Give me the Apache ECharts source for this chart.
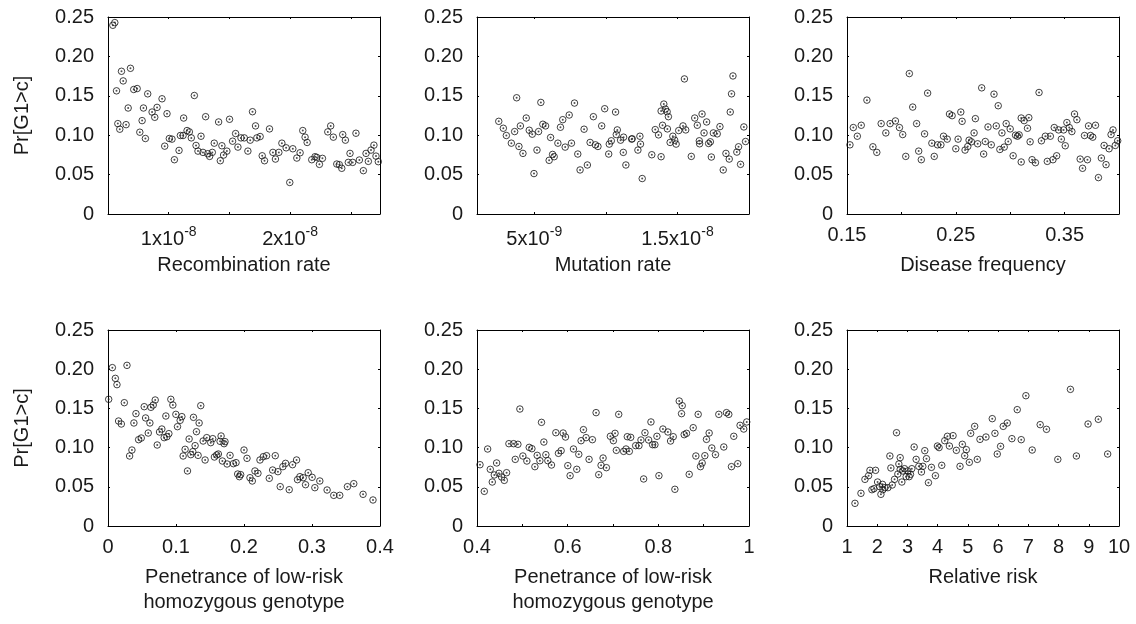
<!DOCTYPE html>
<html>
<head>
<meta charset="utf-8">
<script src="https://cdn.jsdelivr.net/npm/echarts@6/dist/echarts.min.js"></script>
<style>
  html, body { margin: 0; padding: 0; background: #fff; }
  #chart { width: 1136px; height: 624px; }
</style>
</head>
<body>
<div id="chart"></div>
<script>
// shared y axis: Pr[G1>c]
const prTicks = [0, 0.05, 0.10, 0.15, 0.20, 0.25];

// recombination rate (in units of 1e-8)
const recombRateE8 = [
  0.540, 0.556, 0.570, 0.581, 0.597, 0.611, 0.625, 0.649, 0.666, 0.685,
  0.712, 0.740, 0.762, 0.781, 0.792, 0.808, 0.827, 0.863, 0.885, 0.904,
  0.945, 0.967, 0.986, 1.005, 1.027, 1.047, 1.085, 1.096, 1.118, 1.123,
  1.151, 1.170, 1.186, 1.211, 1.225, 1.241, 1.266, 1.282, 1.304, 1.321,
  1.337, 1.359, 1.375, 1.411, 1.425, 1.438, 1.452, 1.479, 1.501, 1.526,
  1.551, 1.570, 1.595, 1.622, 1.652, 1.671, 1.690, 1.715, 1.726, 1.753,
  1.770, 1.789, 1.830, 1.858, 1.879, 1.907, 1.932, 1.967, 1.997, 2.022,
  2.055, 2.082, 2.104, 2.123, 2.140, 2.178, 2.205, 2.219, 2.241, 2.266,
  2.310, 2.334, 2.356, 2.384, 2.405, 2.425, 2.433, 2.455, 2.479, 2.493,
  2.515, 2.542, 2.570, 2.603, 2.625, 2.644, 2.666, 2.690, 2.707, 2.726
];
const recombPr = [
  0.2395, 0.2429, 0.1563, 0.1147, 0.1076, 0.1811, 0.1689, 0.1134, 0.1345, 0.1849,
  0.1580, 0.1592, 0.1038, 0.1185, 0.1345, 0.0958, 0.1525, 0.1294, 0.1227, 0.1353,
  0.1462, 0.0861, 0.1273, 0.0958, 0.0950, 0.0689, 0.0807, 0.0996, 0.0996, 0.1218,
  0.1059, 0.1042, 0.0966, 0.1504, 0.0870, 0.0798, 0.0987, 0.0782, 0.1235, 0.0765,
  0.0731, 0.0782, 0.0899, 0.1168, 0.0676, 0.0866, 0.0748, 0.0798, 0.1202, 0.0924,
  0.1021, 0.0849, 0.0966, 0.0966, 0.0798, 0.0937, 0.1298, 0.1118, 0.0966, 0.0983,
  0.0739, 0.0676, 0.1080, 0.0782, 0.0697, 0.0782, 0.0899, 0.0840, 0.0400, 0.0828,
  0.0710, 0.0777, 0.1059, 0.0975, 0.0908, 0.0689, 0.0727, 0.0718, 0.0630, 0.0706,
  0.1042, 0.1118, 0.0975, 0.0634, 0.0626, 0.0580, 0.1008, 0.0937, 0.0655, 0.0769,
  0.0655, 0.1025, 0.0685, 0.0550, 0.0769, 0.0668, 0.0811, 0.0874, 0.0735, 0.0664
];
const recombTicks = [0.5e-8, 1e-8, 1.5e-8, 2e-8, 2.5e-8];
const recombLabels = [1e-8, 2e-8];

// mutation rate (in units of 1e-8)
const mutationRateE8 = [
  0.252, 0.284, 0.305, 0.340, 0.363, 0.377, 0.393, 0.403, 0.421, 0.444,
  0.465, 0.486, 0.498, 0.519, 0.530, 0.546, 0.560, 0.579, 0.604, 0.614,
  0.628, 0.639, 0.665, 0.683, 0.699, 0.716, 0.744, 0.760, 0.781, 0.804,
  0.820, 0.848, 0.871, 0.890, 0.913, 0.927, 0.945, 0.971, 0.992, 1.020,
  1.024, 1.038, 1.068, 1.073, 1.080, 1.103, 1.122, 1.124, 1.140, 1.180,
  1.184, 1.224, 1.238, 1.242, 1.254, 1.321, 1.345, 1.368, 1.386, 1.386,
  1.396, 1.405, 1.416, 1.428, 1.430, 1.437, 1.449, 1.468, 1.481, 1.491,
  1.509, 1.539, 1.549, 1.558, 1.597, 1.621, 1.639, 1.653, 1.655, 1.672,
  1.686, 1.704, 1.718, 1.730, 1.737, 1.751, 1.778, 1.797, 1.820, 1.839,
  1.862, 1.869, 1.878, 1.888, 1.915, 1.927, 1.941, 1.964, 1.976
];
const mutationPr = [
  0.1176, 0.1088, 0.0996, 0.0899, 0.1046, 0.1475, 0.0857, 0.1118, 0.0769, 0.1218,
  0.1063, 0.1013, 0.0513, 0.0811, 0.1046, 0.1416, 0.1139, 0.1118, 0.0681, 0.0971,
  0.0756, 0.0727, 0.0899, 0.1101, 0.1197, 0.0849, 0.1256, 0.0899, 0.1408, 0.0761,
  0.0559, 0.1076, 0.0622, 0.0908, 0.1235, 0.0878, 0.0857, 0.1118, 0.1336, 0.0761,
  0.0887, 0.0929, 0.1294, 0.1008, 0.1067, 0.0937, 0.0782, 0.0975, 0.0622, 0.0950,
  0.0955, 0.0811, 0.0987, 0.0887, 0.0450, 0.0752, 0.1071, 0.1004, 0.1307, 0.0727,
  0.1126, 0.1395, 0.1332, 0.1298, 0.1080, 0.1235, 0.0908, 0.0987, 0.0937, 0.0887,
  0.1059, 0.1118, 0.1714, 0.1067, 0.0731, 0.1218, 0.1126, 0.0929, 0.0891, 0.1269,
  0.1029, 0.1168, 0.0895, 0.0916, 0.0723, 0.1029, 0.1017, 0.1109, 0.0559, 0.0769,
  0.0697, 0.1294, 0.1525, 0.1752, 0.0786, 0.0853, 0.0630, 0.1105, 0.0920
];
const mutationTicks = [0.5e-8, 1e-8, 1.5e-8];
const mutationLabels = [0.5e-8, 1.5e-8];

// disease frequency
const diseaseFreq = [
  0.1527, 0.1558, 0.1595, 0.1631, 0.1683, 0.1738, 0.1774, 0.1814, 0.1857, 0.1896,
  0.1945, 0.1982, 0.2012, 0.2040, 0.2073, 0.2104, 0.2140, 0.2159, 0.2183, 0.2213,
  0.2241, 0.2280, 0.2302, 0.2332, 0.2363, 0.2387, 0.2421, 0.2442, 0.2466, 0.2500,
  0.2521, 0.2546, 0.2558, 0.2585, 0.2610, 0.2622, 0.2643, 0.2668, 0.2680, 0.2701,
  0.2738, 0.2756, 0.2771, 0.2796, 0.2826, 0.2851, 0.2872, 0.2890, 0.2905, 0.2924,
  0.2945, 0.2963, 0.2982, 0.3000, 0.3027, 0.3049, 0.3067, 0.3082, 0.3101, 0.3101,
  0.3128, 0.3159, 0.3171, 0.3183, 0.3201, 0.3232, 0.3265, 0.3287, 0.3323, 0.3341,
  0.3369, 0.3393, 0.3405, 0.3427, 0.3445, 0.3470, 0.3491, 0.3506, 0.3521, 0.3543,
  0.3567, 0.3591, 0.3613, 0.3643, 0.3665, 0.3683, 0.3710, 0.3720, 0.3738, 0.3759,
  0.3784, 0.3811, 0.3838, 0.3863, 0.3881, 0.3909, 0.3927, 0.3945, 0.3966, 0.3988
];
const diseasePr = [
  0.0878, 0.1097, 0.0987, 0.1126, 0.1445, 0.0853, 0.0782, 0.1147, 0.1029, 0.1147,
  0.1181, 0.1097, 0.1008, 0.0731, 0.1782, 0.1357, 0.1147, 0.0798, 0.0689, 0.1017,
  0.1534, 0.0899, 0.0731, 0.0878, 0.0878, 0.0987, 0.0950, 0.1269, 0.1248, 0.0828,
  0.0950, 0.1294, 0.1176, 0.0811, 0.0857, 0.0937, 0.0916, 0.1029, 0.1210, 0.0891,
  0.1601, 0.0761, 0.0920, 0.1105, 0.0878, 0.1521, 0.1118, 0.1374, 0.0819, 0.1029,
  0.0849, 0.1147, 0.0920, 0.1080, 0.0739, 0.1000, 0.0987, 0.1004, 0.0660, 0.1218,
  0.1185, 0.1088, 0.1223, 0.0916, 0.0689, 0.0651, 0.1542, 0.0929, 0.0987, 0.0668,
  0.0987, 0.0689, 0.1097, 0.0739, 0.1067, 0.0950, 0.1067, 0.0866, 0.1160, 0.1097,
  0.1046, 0.1269, 0.1197, 0.0697, 0.0580, 0.0996, 0.0689, 0.1118, 0.0996, 0.0975,
  0.1126, 0.0462, 0.0710, 0.0870, 0.0626, 0.0828, 0.1008, 0.1067, 0.0870, 0.0929
];
const diseaseTicks = [0.15, 0.2, 0.25, 0.3, 0.35];
const diseaseLabels = [0.15, 0.25, 0.35];

// penetrance of low-risk homozygous genotype, low range
const penLow = [
  0.0010, 0.0064, 0.0108, 0.0132, 0.0156, 0.0196, 0.0240, 0.0279, 0.0318, 0.0352,
  0.0381, 0.0411, 0.0450, 0.0489, 0.0533, 0.0553, 0.0592, 0.0616, 0.0631, 0.0665,
  0.0694, 0.0724, 0.0758, 0.0792, 0.0826, 0.0851, 0.0866, 0.0895, 0.0924, 0.0954,
  0.0998, 0.1022, 0.1061, 0.1086, 0.1105, 0.1134, 0.1169, 0.1193, 0.1218, 0.1247,
  0.1257, 0.1281, 0.1301, 0.1325, 0.1340, 0.1364, 0.1399, 0.1428, 0.1452, 0.1511,
  0.1540, 0.1565, 0.1599, 0.1623, 0.1648, 0.1663, 0.1682, 0.1707, 0.1721, 0.1751,
  0.1795, 0.1844, 0.1883, 0.1907, 0.1932, 0.1951, 0.2000, 0.2044, 0.2088, 0.2122,
  0.2161, 0.2205, 0.2235, 0.2284, 0.2332, 0.2372, 0.2421, 0.2460, 0.2499, 0.2533,
  0.2572, 0.2611, 0.2665, 0.2714, 0.2773, 0.2787, 0.2822, 0.2870, 0.2905, 0.2944,
  0.3002, 0.3042, 0.3115, 0.3222, 0.3320, 0.3408, 0.3521, 0.3614, 0.3751, 0.3897
];
const penLowPr = [
  0.1616, 0.2020, 0.1883, 0.1803, 0.1339, 0.1301, 0.1573, 0.2049, 0.0893, 0.0969,
  0.1314, 0.1433, 0.1101, 0.1122, 0.1522, 0.1378, 0.1186, 0.1314, 0.1514, 0.1543,
  0.1607, 0.1033, 0.1199, 0.1237, 0.1127, 0.1403, 0.1139, 0.1178, 0.1616, 0.1543,
  0.1424, 0.1267, 0.1348, 0.1395, 0.0893, 0.0978, 0.0702, 0.1110, 0.0910, 0.0948,
  0.1386, 0.1025, 0.1203, 0.0901, 0.1314, 0.1535, 0.1084, 0.0842, 0.1127, 0.1063,
  0.1114, 0.0880, 0.0906, 0.0918, 0.1080, 0.1148, 0.0829, 0.1050, 0.1076, 0.0791,
  0.0901, 0.0795, 0.0808, 0.0663, 0.0629, 0.0655, 0.0969, 0.0863, 0.0616, 0.0574,
  0.0702, 0.0672, 0.0842, 0.0884, 0.0897, 0.0608, 0.0714, 0.0897, 0.0693, 0.0502,
  0.0757, 0.0799, 0.0463, 0.0782, 0.0842, 0.0591, 0.0629, 0.0616, 0.0527, 0.0680,
  0.0621, 0.0489, 0.0574, 0.0459, 0.0391, 0.0391, 0.0502, 0.0540, 0.0404, 0.0332
];
const penLowTicks = [0, 0.1, 0.2, 0.3, 0.4];
const penLowLabels = [0, 0.1, 0.2, 0.3, 0.4];

// penetrance of low-risk homozygous genotype, high range
const penHigh = [
  0.4066, 0.4161, 0.4235, 0.4293, 0.4337, 0.4382, 0.4433, 0.4484, 0.4543, 0.4602,
  0.4653, 0.4704, 0.4807, 0.4844, 0.4902, 0.4946, 0.5012, 0.5100, 0.5152, 0.5211,
  0.5277, 0.5328, 0.5387, 0.5423, 0.5475, 0.5519, 0.5563, 0.5643, 0.5739, 0.5797,
  0.5856, 0.5900, 0.5952, 0.6003, 0.6054, 0.6128, 0.6201, 0.6245, 0.6296, 0.6348,
  0.6406, 0.6472, 0.6546, 0.6627, 0.6685, 0.6737, 0.6781, 0.6854, 0.6942, 0.7008,
  0.7045, 0.7074, 0.7126, 0.7235, 0.7287, 0.7316, 0.7360, 0.7390, 0.7500, 0.7573,
  0.7617, 0.7676, 0.7705, 0.7786, 0.7837, 0.7874, 0.7925, 0.7969, 0.8013, 0.8101,
  0.8211, 0.8270, 0.8329, 0.8365, 0.8461, 0.8512, 0.8527, 0.8571, 0.8622, 0.8681,
  0.8769, 0.8828, 0.8879, 0.8930, 0.8967, 0.9026, 0.9062, 0.9121, 0.9180, 0.9260,
  0.9334, 0.9444, 0.9503, 0.9554, 0.9613, 0.9664, 0.9752, 0.9803, 0.9884, 0.9950
];
const penHighPr = [
  0.0782, 0.0442, 0.0982, 0.0723, 0.0561, 0.0651, 0.0804, 0.0672, 0.0625, 0.0582,
  0.0680, 0.1050, 0.1050, 0.0850, 0.1042, 0.1492, 0.0893, 0.0829, 0.1003, 0.0986,
  0.0757, 0.0901, 0.0833, 0.1322, 0.1071, 0.0910, 0.0833, 0.0778, 0.1190, 0.0927,
  0.0961, 0.1186, 0.1135, 0.0770, 0.0642, 0.0982, 0.0723, 0.0914, 0.1088, 0.1229,
  0.1127, 0.0850, 0.1101, 0.1446, 0.0655, 0.0774, 0.0867, 0.0744, 0.1144, 0.1088,
  0.1182, 0.0965, 0.1424, 0.0952, 0.0982, 0.1139, 0.0952, 0.1131, 0.1025, 0.1025,
  0.1097, 0.0600, 0.1190, 0.1097, 0.1327, 0.1037, 0.1037, 0.1144, 0.0642, 0.1237,
  0.1199, 0.1084, 0.1139, 0.0468, 0.1594, 0.1433, 0.1535, 0.1165, 0.1182, 0.0659,
  0.1254, 0.0893, 0.1424, 0.0757, 0.0804, 0.0897, 0.1105, 0.1186, 0.0995, 0.0910,
  0.1424, 0.1008, 0.1446, 0.1424, 0.0757, 0.1144, 0.0795, 0.1284, 0.1237, 0.1327
];
const penHighTicks = [0.4, 0.5, 0.6, 0.7, 0.8, 0.9, 1];
const penHighLabels = [0.4, 0.6, 0.8, 1];

// relative risk
const relRisk = [
  1.264, 1.462, 1.594, 1.715, 1.759, 1.825, 1.891, 1.946, 2.012, 2.078,
  2.122, 2.177, 2.188, 2.254, 2.353, 2.419, 2.452, 2.496, 2.573, 2.639,
  2.683, 2.716, 2.760, 2.760, 2.815, 2.848, 2.903, 2.958, 3.013, 3.057,
  3.101, 3.145, 3.222, 3.288, 3.376, 3.464, 3.508, 3.574, 3.629, 3.695,
  3.794, 3.926, 3.992, 4.047, 4.135, 4.234, 4.322, 4.388, 4.509, 4.619,
  4.740, 4.817, 4.894, 4.949, 5.048, 5.092, 5.224, 5.312, 5.400, 5.598,
  5.807, 5.895, 5.972, 6.082, 6.170, 6.302, 6.456, 6.633, 6.765, 6.919,
  7.128, 7.392, 7.601, 7.975, 8.393, 8.591, 8.976, 9.317, 9.625
];
const relRiskPr = [
  0.0289, 0.0417, 0.0595, 0.0642, 0.0710, 0.0463, 0.0476, 0.0710, 0.0561, 0.0502,
  0.0404, 0.0531, 0.0463, 0.0489, 0.0489, 0.0893, 0.0740, 0.0523, 0.0595, 0.1190,
  0.0663, 0.0791, 0.0872, 0.0723, 0.0561, 0.0702, 0.0731, 0.0629, 0.0702, 0.0629,
  0.0659, 0.0731, 0.1008, 0.0850, 0.0761, 0.0689, 0.0761, 0.0961, 0.0859, 0.0553,
  0.0748, 0.0642, 0.1020, 0.1000, 0.0774, 0.1088, 0.1144, 0.1020, 0.1152, 0.0965,
  0.0761, 0.1042, 0.0897, 0.0974, 0.0812, 0.1182, 0.1271, 0.0850, 0.1105, 0.1135,
  0.1369, 0.1182, 0.0918, 0.1016, 0.1271, 0.1314, 0.1114, 0.1484, 0.1101, 0.1662,
  0.0969, 0.1293, 0.1233, 0.0850, 0.1743, 0.0893, 0.1301, 0.1361, 0.0918
];
const relRiskTicks = [1, 2, 3, 4, 5, 6, 7, 8, 9, 10];
const relRiskLabels = [1, 2, 3, 4, 5, 6, 7, 8, 9, 10];

const FONT = "'Liberation Sans', Arial, Helvetica, sans-serif";
const INK = '#1a1a1a';
const twoLine = 'Penetrance of low-risk\nhomozygous genotype';

// "1x10^-8" style label
function sciLabel(v) {
  const exp = Math.floor(Math.log10(v) + 1e-9);
  const mant = Math.round(v / Math.pow(10, exp) * 10) / 10;
  return '{n|' + mant + 'x10}{s|' + exp + '}';
}
function plainLabel(v) { return String(Math.round(v * 100) / 100); }

const panels = [
  { x: recombRateE8.map(v => v * 1e-8), y: recombPr, min: 0.5e-8, max: 2.74e-8,
    ticks: recombTicks, labels: recombLabels, fmt: sciLabel, name: 'Recombination rate' },
  { x: mutationRateE8.map(v => v * 1e-8), y: mutationPr, min: 0.1e-8, max: 2e-8,
    ticks: mutationTicks, labels: mutationLabels, fmt: sciLabel, name: 'Mutation rate' },
  { x: diseaseFreq, y: diseasePr, min: 0.15, max: 0.4,
    ticks: diseaseTicks, labels: diseaseLabels, fmt: plainLabel, name: 'Disease frequency' },
  { x: penLow, y: penLowPr, min: 0, max: 0.4,
    ticks: penLowTicks, labels: penLowLabels, fmt: plainLabel, name: twoLine },
  { x: penHigh, y: penHighPr, min: 0.4, max: 1,
    ticks: penHighTicks, labels: penHighLabels, fmt: plainLabel, name: twoLine },
  { x: relRisk, y: relRiskPr, min: 1, max: 10,
    ticks: relRiskTicks, labels: relRiskLabels, fmt: plainLabel, name: 'Relative risk' }
];

// grid boxes, in px
const cols = [108, 477, 847];
const rows = [17, 330];
const boxW = 272, boxH = 197;

const grid = [], xAxis = [], yAxis = [], series = [];
const lineStyle = { color: '#000', width: 1 };
const tick = { show: true, inside: true, length: 2, lineStyle: { color: '#000', width: 1 } };

panels.forEach((p, i) => {
  const col = i % 3, row = Math.floor(i / 3);
  grid.push({ left: cols[col], top: rows[row], width: boxW, height: row ? 196 : boxH });

  // bottom axis with labels, top axis as a mirror frame
  xAxis.push({
    type: 'value', gridIndex: i, position: 'bottom', min: p.min, max: p.max,
    axisLine: { show: true, onZero: false, lineStyle },
    axisTick: Object.assign({ customValues: p.ticks }, tick),
    splitLine: { show: false },
    axisLabel: {
      customValues: p.labels, formatter: p.fmt, margin: 11,
      color: INK, fontSize: 20, fontFamily: FONT,
      rich: {
        n: { fontSize: 20, fontFamily: FONT, color: INK },
        s: { fontSize: 14, fontFamily: FONT, color: INK, padding: [0, 0, 14, 0] }
      }
    },
    name: p.name, nameLocation: 'middle', nameGap: 39,
    nameTextStyle: { fontSize: 20, fontFamily: FONT, color: INK, lineHeight: 25 }
  });
  xAxis.push({
    type: 'value', gridIndex: i, position: 'top', min: p.min, max: p.max,
    axisLine: { show: true, onZero: false, lineStyle },
    axisTick: Object.assign({ customValues: p.ticks }, tick),
    axisLabel: { show: false }, splitLine: { show: false }
  });

  yAxis.push({
    type: 'value', gridIndex: i, position: 'left', min: 0, max: 0.25, interval: 0.05,
    axisLine: { show: true, onZero: false, lineStyle },
    axisTick: tick, splitLine: { show: false },
    axisLabel: {
      margin: 14, color: INK, fontSize: 20, fontFamily: FONT,
      formatter: v => {
        const t = prTicks.find(k => Math.abs(k - v) < 1e-6);
        return t === 0 ? '0' : t.toFixed(2);
      }
    },
    name: col === 0 ? 'Pr[G1>c]' : '', nameLocation: 'middle', nameGap: 73,
    nameTextStyle: { fontSize: 20, fontFamily: FONT, color: INK, lineHeight: 25 }
  });
  yAxis.push({
    type: 'value', gridIndex: i, position: 'right', min: 0, max: 0.25, interval: 0.05,
    axisLine: { show: true, onZero: false, lineStyle },
    axisTick: tick, axisLabel: { show: false }, splitLine: { show: false }
  });

  const data = p.x.map((v, k) => [v, p.y[k]]);
  // open circle
  series.push({
    type: 'scatter', xAxisIndex: 2 * i, yAxisIndex: 2 * i, data,
    symbol: 'circle', symbolSize: 6.5,
    itemStyle: { color: 'rgba(0,0,0,0)', borderColor: '#111', borderWidth: 1 },
    silent: true
  });
  // centre dot
  series.push({
    type: 'scatter', xAxisIndex: 2 * i, yAxisIndex: 2 * i, data,
    symbol: 'circle', symbolSize: 2,
    itemStyle: { color: '#222' },
    silent: true
  });
});

const chart = echarts.init(document.getElementById('chart'));
chart.setOption({
  animation: false,
  backgroundColor: '#fff',
  grid, xAxis, yAxis, series
});
</script>
</body>
</html>
